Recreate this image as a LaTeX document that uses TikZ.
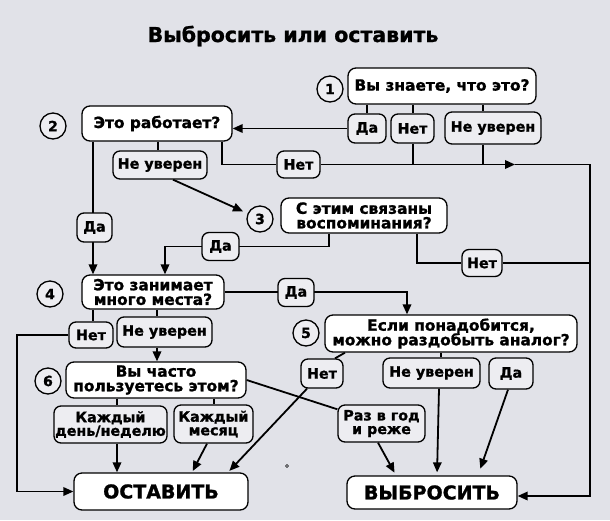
\documentclass[tikz,border=0pt]{standalone}
\usepackage{fontspec}
\setmainfont{DejaVu Sans}[BoldFeatures={FakeBold=1.2}]
\usetikzlibrary{arrows.meta,calc}
\definecolor{bgc}{RGB}{225,226,232}
\definecolor{ansc}{RGB}{237,237,241}
\pgfdeclarelayer{bglayer}
\pgfdeclarelayer{lines}
\pgfsetlayers{bglayer,lines,main}
\newcommand\myqf{\bfseries\fontsize{15.4}{14.6}\selectfont}
\newcommand\myaf{\bfseries\fontsize{14.3}{13.6}\selectfont}
\newcommand\mybf{\bfseries\fontsize{19}{20}\selectfont}
\newcommand\mytf{\bfseries\fontsize{20.5}{22}\selectfont}
\newcommand\mynf{\bfseries\fontsize{14}{14}\selectfont}
\begin{document}
\begin{tikzpicture}[x=1pt,y=-1pt,
  qbox/.style={draw, line width=1.3pt, fill=white, rounded corners=8pt, inner sep=0pt, align=center, font=\myqf},
  abox/.style={draw, line width=1.3pt, fill=ansc, rounded corners=7pt, inner sep=0pt, align=center, font=\myaf},
  bbox/.style={qbox, font=\mybf},
  num/.style={circle, draw, line width=1.3pt, fill=ansc, minimum size=26pt, inner sep=0pt, font=\mynf},
  sz/.style 2 args={minimum width=#1pt, minimum height=#2pt},
  con/.style={line width=1.8pt},
  arr/.style={con, -{Triangle[length=10pt,width=8.5pt]}}]
\useasboundingbox (0,0) rectangle (610,520);
\begin{pgfonlayer}{bglayer}
\fill[bgc] (0,0) rectangle (610,520);
\end{pgfonlayer}
% title
\node[font=\mytf, anchor=base, inner sep=0pt] (title) at (293,42) {Выбросить или оставить};
% question 1
\node[qbox, sz={188}{36}] (q1) at (442,86) {Вы знаете, что это?};
\node[num] (n1) at (330,89) {1};
\node[abox, sz={38}{29}] (a1da) at (367,128.5) {Да};
\node[abox, sz={43}{29}] (a1net) at (412.5,128.5) {Нет};
\node[abox, sz={96}{32}] (a1nu) at (493,128) {Не уверен};
% question 2
\node[qbox, sz={150}{35}] (q2) at (157,123.5) {Это работает?};
\node[num] (n2) at (53,126) {2};
\node[abox, sz={94}{28}] (a2nu) at (160,165) {Не уверен};
\node[abox, sz={43}{27}] (a2net) at (298.5,164.5) {Нет};
\node[abox, sz={35}{29}] (a2da) at (94.5,227.5) {Да};
% question 3
\node[qbox, sz={166}{35}] (q3) at (364,215.5) {С этим связаны\\воспоминания?};
\node[num] (n3) at (260,219) {3};
\node[abox, sz={37}{28}] (a3da) at (220.5,246.5) {Да};
\node[abox, sz={40}{27}] (a3net) at (482,263) {Нет};
% question 4
\node[qbox, sz={142}{34}] (q4) at (153,292) {Это занимает\\много места?};
\node[num] (n4) at (50,294) {4};
\node[abox, sz={36}{28}] (a4da) at (296,292.5) {Да};
\node[abox, sz={44}{26}] (a4net) at (91,335) {Нет};
\node[abox, sz={95}{30}] (a4nu) at (164.5,332) {Не уверен};
% question 6
\node[qbox, sz={180}{36}] (q6) at (156,380) {Вы часто\\пользуетесь этом?};
\node[num] (n6) at (48,381) {6};
\node[abox, sz={113}{37}] (a6d) at (110.5,424.5) {Каждый\\день/неделю};
\node[abox, sz={79}{38}] (a6m) at (213.5,424) {Каждый\\месяц};
\node[abox, sz={87}{37}] (a6y) at (381.5,423.5) {Раз в год\\и реже};
% question 5
\node[qbox, sz={252}{37}] (q5) at (451,333.5) {Если понадобится,\\можно раздобыть аналог?};
\node[num] (n5) at (306,333) {5};
\node[abox, sz={42}{29}] (a5net) at (322,373.5) {Нет};
\node[abox, sz={97}{30}] (a5nu) at (431.5,373) {Не уверен};
\node[abox, sz={44}{31}] (a5da) at (511,373.5) {Да};
% results
\node[bbox, sz={174}{37}] (keep) at (161,491.5) {ОСТАВИТЬ};
\node[bbox, sz={170}{33}] (toss) at (432,492.5) {ВЫБРОСИТЬ};
\node[circle, draw, line width=0.6pt, inner sep=0pt, minimum size=3pt] (dot) at (287,466) {};
% helper coordinates
\coordinate (x17) at (17,0);
\coordinate (x93) at (93,0);
\coordinate (x117) at (117,0);
\coordinate (x157) at (157,0);
\coordinate (x158) at (158,0);
\coordinate (x165) at (165,0);
\coordinate (x214) at (214,0);
\coordinate (x222) at (222,0);
\coordinate (x329) at (329,0);
\coordinate (x407) at (407,0);
\coordinate (x413) at (413,0);
\coordinate (x417) at (417,0);
\coordinate (x441) at (441,0);
\coordinate (x483) at (483,0);
\coordinate (x590) at (590,0);
\coordinate (mid) at (515,164.5);
\coordinate (ret) at (590,496);
\begin{pgfonlayer}{lines}
% from 1
\draw[con] (a1da.north |- q1.south) -- (a1da.north);
\draw[con] (x413 |- q1.south) -- (x413 |- a1net.north);
\draw[con] (x483 |- q1.south) -- (x483 |- a1nu.north);
\draw[arr] (a1da.west) -- (a1da.west -| q2.east);
\draw[con] (x413 |- a1net.south) -- (x413 |- mid);
\draw[con] (x483 |- a1nu.south) -- (x483 |- mid);
% from 2
\draw[con] (x222 |- q2.south) |- (a2net.west);
\draw[arr] (a2net.east) -- (mid);
\draw[arr] (mid) -- (x590 |- mid) -- (ret) -- (ret -| toss.east);
\draw[con] (x158 |- q2.south) -- (x158 |- a2nu.north);
\draw[arr, shorten >=5pt] ([xshift=13pt]a2nu.south) -- (n3);
\draw[arr] (x93 |- q2.south) -- (x93 |- q4.north);
% from 3
\draw[arr] (x329 |- q3.south) -- (x329 |- a3da) -- (x165 |- a3da) -- (x165 |- q4.north);
\draw[con] (x417 |- q3.south) |- (a3net.west);
\draw[con] (a3net.east) -- (x590 |- a3net);
% from 4
\draw[arr] (q4.east) -- (x407 |- q4.east) -- (x407 |- q5.north);
\draw[con] (x93 |- q4.south) -- (x93 |- a4net.north);
\draw[arr] (a4net.west) -- (x17 |- a4net) |- (keep.west);
\draw[con] (x157 |- q4.south) -- (x157 |- a4nu.north);
\draw[arr] (x157 |- a4nu.south) -- (x157 |- q6.north);
% from 6
\draw[con] (x117 |- q6.south) -- (x117 |- a6d.north);
\draw[arr] (x117 |- a6d.south) -- (x117 |- keep.north);
\draw[con] (x214 |- q6.south) -- (x214 |- a6m.north);
\draw[arr, shorten >=1.5pt] ([xshift=-6.5pt]a6m.south) -- ([xshift=31pt]keep.north);
\draw[con] (q6.east) -- (a6y);
\draw[arr, shorten >=3pt] ([xshift=-3.5pt]a6y.south) -- ([xshift=-36pt]toss.north);
% from 5
\draw[con] ([xshift=-106pt]q5.south) -- ([xshift=13pt]a5net.north);
\draw[arr, shorten >=2pt] ([xshift=-15pt]a5net.south) -- ([xshift=67pt]keep.north);
\draw[con] (x441 |- q5.south) -- (x441 |- a5nu.north);
\draw[arr, shorten >=3pt] ([xshift=7.5pt]a5nu.south) -- ([xshift=5pt]toss.north);
\draw[arr, shorten >=7pt] ([xshift=-3pt]a5da.south) -- ([xshift=46pt]toss.north);
\end{pgfonlayer}
\end{tikzpicture}
\end{document}
